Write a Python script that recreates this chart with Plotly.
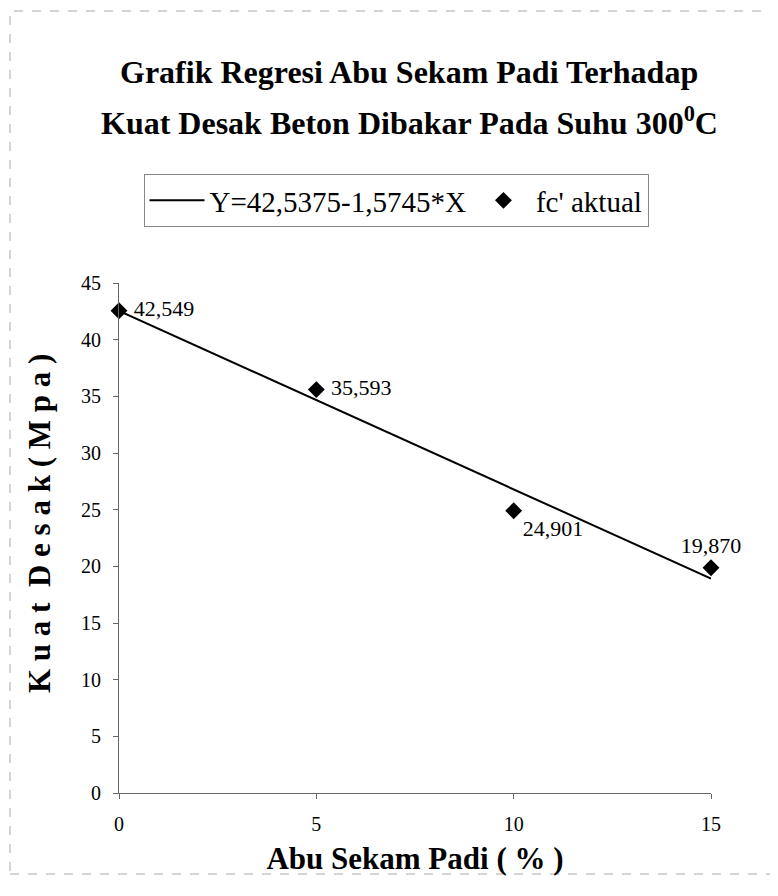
import plotly.graph_objects as go

x_vals = [0, 5, 10, 15]
fc_aktual = [42.549, 35.593, 24.901, 19.870]
label_pos = ["middle right", "middle right", "bottom right", "top center"]
intercept = 42.5375
slope = -1.5745
x_ticks = [0, 5, 10, 15]
y_ticks = [0, 5, 10, 15, 20, 25, 30, 35, 40, 45]

reg_x = [0, 15]
reg_y = [intercept + slope * v for v in reg_x]
labels = [(" " if p == "middle right" else "") + f"{v:.3f}".replace(".", ",")
          for v, p in zip(fc_aktual, label_pos)]

SERIF = "Liberation Serif, Times New Roman, serif"

fig = go.Figure()
fig.add_trace(go.Scatter(
    x=reg_x, y=reg_y, mode="lines",
    line=dict(color="black", width=2),
    name="Y=42,5375-1,5745*X",
))
fig.add_trace(go.Scatter(
    x=x_vals, y=fc_aktual, mode="markers+text",
    marker=dict(symbol="diamond", color="black", size=13),
    text=labels, textposition=label_pos,
    textfont=dict(family=SERIF, size=22, color="black"),
    name="fc' aktual", cliponaxis=False,
))

# page has an 8px body margin; work in reference-image pixels
OFF = 8
W, H = 778 - OFF, 868
X0, X1 = 119, 711   # plot left/right in reference pixels
Y0, Y1 = 283, 793   # plot top/bottom in reference pixels
pw = X1 - X0
ph = Y1 - Y0

def px(xp):
    return (xp - X0) / pw

def py(yp):
    return (Y1 - yp) / ph

fig.update_layout(
    width=W, height=H,
    margin=dict(l=X0 - OFF, r=W - (X1 - OFF), t=Y0 - OFF, b=H - (Y1 - OFF), autoexpand=False),
    paper_bgcolor="white", plot_bgcolor="white",
    font=dict(family=SERIF, color="black"),
    showlegend=True,
    legend=dict(
        orientation="h", x=px(396), y=py(174), xanchor="center", yanchor="top",
        bordercolor="#888", borderwidth=1,
        font=dict(family=SERIF, size=29, color="black"),
        itemwidth=55,
    ),
    xaxis=dict(
        range=[0, 15], tickvals=x_ticks, showgrid=False, zeroline=False,
        showline=True, linecolor="#666", linewidth=1, automargin=False,
        ticks="outside", ticklen=5, tickcolor="#666",
        tickfont=dict(family=SERIF, size=20), ticklabelstandoff=8,
        title=dict(text="<b>Abu Sekam Padi ( % )</b>", font=dict(family=SERIF, size=31), standoff=14),
    ),
    yaxis=dict(
        range=[0, 45], tickvals=y_ticks, showgrid=False, zeroline=False,
        showline=True, linecolor="#666", linewidth=1, automargin=False,
        ticks="outside", ticklen=5, tickcolor="#666",
        tickfont=dict(family=SERIF, size=20), ticklabelstandoff=8,
    ),
    annotations=[
        dict(text="<b>Grafik Regresi Abu Sekam Padi Terhadap</b>", xref="paper", yref="paper",
             x=px(409), y=py(72), xanchor="center", yanchor="middle", showarrow=False,
             font=dict(family=SERIF, size=32)),
        dict(text="<b>Kuat Desak Beton Dibakar Pada Suhu 300<sup>0</sup>C</b>", xref="paper", yref="paper",
             x=px(409), y=py(121), xanchor="center", yanchor="middle", showarrow=False,
             font=dict(family=SERIF, size=32)),
        dict(text="<b>K u a t  D e s a k ( M p a )</b>", xref="paper", yref="paper",
             x=px(39), y=py(524), xanchor="center", yanchor="middle", textangle=-90,
             showarrow=False, font=dict(family=SERIF, size=31)),
    ],
    shapes=[
        dict(type="rect", xref="paper", yref="paper",
             x0=px(10), x1=px(800), y0=py(874), y1=py(11),
             line=dict(color="#aaa", width=1, dash="dash")),
    ],
)

fig.write_html("out.html")
